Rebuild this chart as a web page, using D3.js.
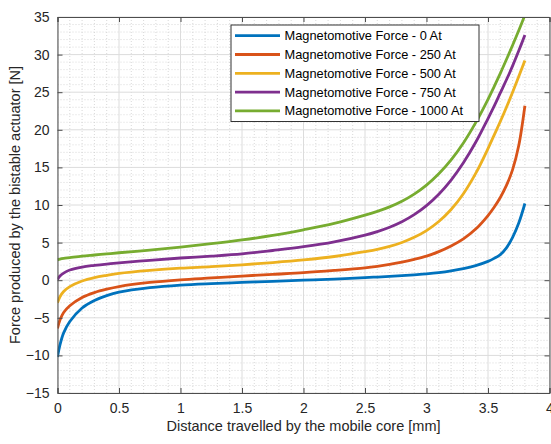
<!DOCTYPE html>
<html>
<head>
<meta charset="utf-8">
<script src="https://cdn.jsdelivr.net/npm/d3@7"></script>
<style>
  html, body { margin: 0; padding: 0; background: #fff; }
  svg { display: block; font-family: "Liberation Sans", Arial, sans-serif; }
</style>
</head>
<body>
<svg id="chart" width="551" height="444"></svg>
<script>
// ---- data ----
const distance  = [0, 0.02, 0.05, 0.1, 0.2, 0.3, 0.4, 0.5, 0.75, 1.0, 1.25, 1.5, 1.75, 2.0, 2.25, 2.5, 2.6, 2.7, 2.8, 2.9, 3.0, 3.1, 3.2, 3.3, 3.4, 3.5, 3.55, 3.6, 3.65, 3.7, 3.75, 3.8];
const force0    = [-10.2, -8.6, -7.0, -5.5, -3.7, -2.7, -2.05, -1.6, -1.0, -0.65, -0.45, -0.3, -0.15, 0.0, 0.15, 0.35, 0.42, 0.5, 0.6, 0.72, 0.85, 1.02, 1.25, 1.55, 1.95, 2.5, 2.9, 3.4, 4.3, 5.7, 7.6, 10.2];
const force250  = [-6.4, -5.3, -4.3, -3.4, -2.3, -1.65, -1.2, -0.85, -0.3, 0.05, 0.3, 0.55, 0.78, 1.0, 1.3, 1.65, 1.85, 2.1, 2.4, 2.77, 3.2, 3.8, 4.55, 5.5, 6.8, 8.6, 9.7, 11.0, 12.6, 14.7, 17.9, 23.2];
const force500  = [-3.0, -2.2, -1.5, -0.85, -0.1, 0.35, 0.65, 0.9, 1.3, 1.6, 1.8, 2.05, 2.35, 2.7, 3.15, 3.8, 4.1, 4.5, 5.02, 5.7, 6.6, 7.8, 9.4, 11.5, 14.2, 17.5, 19.3, 21.1, 23.0, 25.0, 27.1, 29.2];
const force750  = [0.1, 0.55, 0.95, 1.35, 1.75, 1.97, 2.15, 2.3, 2.65, 2.95, 3.2, 3.5, 3.95, 4.45, 5.1, 6.0, 6.47, 7.05, 7.78, 8.72, 9.92, 11.44, 13.32, 15.62, 18.34, 21.5, 23.15, 24.9, 26.65, 28.5, 30.5, 32.6];
const force1000 = [2.7, 2.8, 2.9, 3.0, 3.2, 3.35, 3.5, 3.65, 4.0, 4.4, 4.85, 5.35, 5.95, 6.7, 7.55, 8.65, 9.15, 9.75, 10.5, 11.45, 12.65, 14.15, 16.0, 18.25, 20.95, 24.05, 25.75, 27.5, 29.35, 31.25, 33.2, 35.25];
const seriesNames = ["Magnetomotive Force - 0 At", "Magnetomotive Force - 250 At", "Magnetomotive Force - 500 At",
                     "Magnetomotive Force - 750 At", "Magnetomotive Force - 1000 At"];
const seriesColors = ["#0072BD", "#D95319", "#EDB120", "#7E2F8E", "#77AC30"];
const xTicks = [0, 0.5, 1, 1.5, 2, 2.5, 3, 3.5, 4];
const yTicks = [-15, -10, -5, 0, 5, 10, 15, 20, 25, 30, 35];
const xLabel = "Distance travelled by the mobile core [mm]";
const yLabel = "Force produced by the bistable actuator [N]";

const allSeries = [force0, force250, force500, force750, force1000];

// ---- layout ----
const svg = d3.select("#chart");
const L = 57.5, R = 549.5, T = 17, B = 393;
const x = d3.scaleLinear().domain([0, 4]).range([L, R]);
const y = d3.scaleLinear().domain([-15, 35]).range([B, T]);

svg.append("rect").attr("width", 551).attr("height", 444).attr("fill", "#fff");
svg.append("rect").attr("x", L).attr("y", T).attr("width", R - L).attr("height", B - T).attr("fill", "#fff");

// minor grid
const xMinor = d3.range(0, 4.0001, 0.1).filter(v => Math.abs(v * 2 - Math.round(v * 2)) > 1e-6);
const yMinor = d3.range(-15, 35.0001, 1).filter(v => v % 5 !== 0);
const grid = svg.append("g");
grid.selectAll(".xm").data(xMinor).join("line")
  .attr("x1", d => x(d)).attr("x2", d => x(d)).attr("y1", T).attr("y2", B)
  .attr("stroke", "#c8c8c8").attr("stroke-width", 0.7).attr("stroke-dasharray", "1,2");
grid.selectAll(".ym").data(yMinor).join("line")
  .attr("y1", d => y(d)).attr("y2", d => y(d)).attr("x1", L).attr("x2", R)
  .attr("stroke", "#c8c8c8").attr("stroke-width", 0.7).attr("stroke-dasharray", "1,2");
// major grid
grid.selectAll(".xM").data(xTicks).join("line")
  .attr("x1", d => x(d)).attr("x2", d => x(d)).attr("y1", T).attr("y2", B)
  .attr("stroke", "#dcdcdc").attr("stroke-width", 1);
grid.selectAll(".yM").data(yTicks).join("line")
  .attr("y1", d => y(d)).attr("y2", d => y(d)).attr("x1", L).attr("x2", R)
  .attr("stroke", "#dcdcdc").attr("stroke-width", 1);

// lines
svg.append("clipPath").attr("id", "clip").append("rect")
  .attr("x", L).attr("y", T).attr("width", R - L).attr("height", B - T);
const line = d3.line().x(d => x(d[0])).y(d => y(d[1])).curve(d3.curveCatmullRom.alpha(0.5));
const lines = svg.append("g").attr("clip-path", "url(#clip)");
allSeries.forEach((s, i) => {
  lines.append("path")
    .datum(distance.map((dv, j) => [dv, s[j]]))
    .attr("d", line).attr("fill", "none")
    .attr("stroke", seriesColors[i]).attr("stroke-width", 2.8)
    .attr("stroke-linejoin", "round").attr("stroke-linecap", "butt");
});

// axes (ticks inside, box)
const axisColor = "#4d4d4d";
const tickLen = 5;
const xAxis = d3.axisBottom(x).tickValues(xTicks).tickSize(-tickLen).tickPadding(10).tickFormat(d3.format("~g"));
const yAxis = d3.axisLeft(y).tickValues(yTicks).tickSize(-tickLen).tickPadding(10).tickFormat(d3.format("~g"));
const gx = svg.append("g").attr("transform", `translate(0,${B})`).call(xAxis);
const gy = svg.append("g").attr("transform", `translate(${L},0)`).call(yAxis);
const gxt = svg.append("g").attr("transform", `translate(0,${T})`).call(d3.axisTop(x).tickValues(xTicks).tickSize(-tickLen).tickFormat(""));
const gyr = svg.append("g").attr("transform", `translate(${R},0)`).call(d3.axisRight(y).tickValues(yTicks).tickSize(-tickLen).tickFormat(""));
[gx, gy, gxt, gyr].forEach(g => {
  g.select(".domain").attr("stroke", axisColor).attr("stroke-width", 1);
  g.selectAll(".tick line").attr("stroke", axisColor);
  g.selectAll(".tick text").attr("fill", "#262626").attr("font-size", 14)
    .attr("font-family", "Liberation Sans, Arial, sans-serif");
});
gy.selectAll(".tick text").attr("dx", "0.15em");

// axis labels
svg.append("text").attr("x", (L + R) / 2).attr("y", 431).attr("text-anchor", "middle")
  .attr("font-size", 14.5).attr("fill", "#262626").text(xLabel);
svg.append("text").attr("transform", `translate(20,${(T + B) / 2}) rotate(-90)`)
  .attr("text-anchor", "middle").attr("font-size", 14.5).attr("fill", "#262626").text(yLabel);

// legend
const lg = svg.append("g");
lg.append("rect").attr("x", 231).attr("y", 25).attr("width", 248).attr("height", 96.5)
  .attr("fill", "#fff").attr("stroke", "#333").attr("stroke-width", 1);
seriesNames.forEach((name, i) => {
  const cy = 35.7 + i * 18.8;
  lg.append("line").attr("x1", 235).attr("x2", 280).attr("y1", cy).attr("y2", cy)
    .attr("stroke", seriesColors[i]).attr("stroke-width", 2.8);
  lg.append("text").attr("x", 284.5).attr("y", cy).attr("dy", "0.35em")
    .attr("font-size", 12.8).attr("fill", "#000").text(name);
});
</script>
</body>
</html>
